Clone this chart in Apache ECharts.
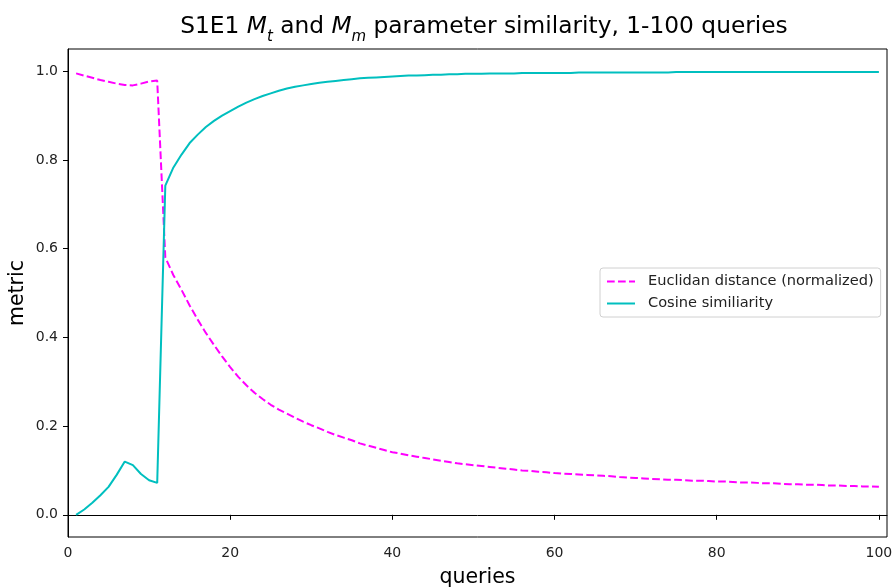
<!DOCTYPE html>
<html>
<head>
<meta charset="utf-8">
<script src="https://cdn.jsdelivr.net/npm/echarts@6/dist/echarts.min.js"></script>
<style>
  html, body { margin: 0; padding: 0; background: #fff; }
  #chart { width: 894px; height: 588px; }
</style>
</head>
<body>
<div id="chart"></div>
<script>
// queries 1..100
var queries = [];
for (var q = 1; q <= 100; q++) queries.push(q);

var euclid = [
    0.995, 0.990, 0.985, 0.980, 0.976, 0.972, 0.969, 0.968, 0.972, 0.977,
    0.979, 0.580, 0.540, 0.507, 0.472, 0.440, 0.410, 0.383, 0.357, 0.333,
    0.311, 0.292, 0.275, 0.261, 0.248, 0.237, 0.228, 0.219, 0.210, 0.202,
    0.195, 0.187, 0.180, 0.174, 0.168, 0.161, 0.156, 0.151, 0.146, 0.141,
    0.138, 0.134, 0.131, 0.128, 0.125, 0.122, 0.119, 0.116, 0.114, 0.112,
    0.110, 0.108, 0.106, 0.104, 0.102, 0.100, 0.099, 0.097, 0.096, 0.094,
    0.093, 0.092, 0.091, 0.090, 0.089, 0.088, 0.087, 0.085, 0.084, 0.083,
    0.082, 0.081, 0.080, 0.079, 0.079, 0.078, 0.077, 0.077, 0.076, 0.075,
    0.075, 0.074, 0.073, 0.073, 0.072, 0.071, 0.071, 0.070, 0.069, 0.069,
    0.068, 0.068, 0.067, 0.066, 0.066, 0.065, 0.065, 0.064, 0.064, 0.063
];

var cosine = [
    0.000, 0.012, 0.027, 0.044, 0.063, 0.090, 0.120, 0.112, 0.092, 0.078,
    0.072, 0.742, 0.783, 0.812, 0.838, 0.857, 0.874, 0.888, 0.900, 0.910,
    0.920, 0.929, 0.937, 0.944, 0.950, 0.956, 0.961, 0.965, 0.968, 0.971,
    0.974, 0.976, 0.978, 0.980, 0.982, 0.984, 0.985, 0.986, 0.987, 0.988,
    0.989, 0.990, 0.990, 0.991, 0.992, 0.992, 0.993, 0.993, 0.994, 0.994,
    0.994, 0.995, 0.995, 0.995, 0.995, 0.996, 0.996, 0.996, 0.996, 0.996,
    0.996, 0.996, 0.997, 0.997, 0.997, 0.997, 0.997, 0.997, 0.997, 0.997,
    0.997, 0.997, 0.997, 0.997, 0.998, 0.998, 0.998, 0.998, 0.998, 0.998,
    0.998, 0.998, 0.998, 0.998, 0.998, 0.998, 0.998, 0.998, 0.998, 0.998,
    0.998, 0.998, 0.998, 0.998, 0.998, 0.998, 0.998, 0.998, 0.998, 0.998
];

var xTicks = [0, 20, 40, 60, 80, 100];
var yTicks = [0, 0.2, 0.4, 0.6, 0.8, 1.0];

var seriesNames = ['Euclidan distance (normalized)', 'Cosine similiarity'];

function pairs(ys) {
    var out = [];
    for (var i = 0; i < ys.length; i++) out.push([queries[i], ys[i]]);
    return out;
}

var font = 'DejaVu Sans';
var chart = echarts.init(document.getElementById('chart'));

var option = {
    backgroundColor: '#fff',
    animation: false,
    title: {
        text: 'S1E1 {i|M}{s|t} and {i|M}{s|m} parameter similarity, 1-100 queries',
        left: 479,
        top: 10,
        textAlign: 'center',
        textStyle: {
            fontFamily: font,
            fontSize: 23.3,
            fontWeight: 'normal',
            color: '#000',
            rich: {
                i: { fontFamily: font, fontSize: 23.3, fontStyle: 'italic', color: '#000' },
                s: { fontFamily: font, fontSize: 15, fontStyle: 'italic', color: '#000', verticalAlign: 'bottom', padding: [0, 0, -7, 0] }
            }
        }
    },
    legend: {
        orient: 'vertical',
        left: 600,
        top: 268,
        data: seriesNames,
        itemWidth: 28,
        itemHeight: 10,
        itemGap: 7,
        padding: [6, 7, 6, 6],
        borderColor: '#d0d0d0',
        borderWidth: 1,
        borderRadius: 3,
        itemStyle: { opacity: 0 },
        textStyle: { fontFamily: font, fontSize: 14.6, color: '#222', padding: [0, 0, 0, 8] }
    },
    grid: {
        left: 68,
        right: 7,
        top: 49,
        bottom: 51,
        outerBoundsMode: 'none',
        containLabel: false,
        show: true,
        borderColor: '#000',
        borderWidth: 1
    },
    xAxis: {
        type: 'value',
        min: 0,
        max: 101,
        name: 'queries',
        nameLocation: 'middle',
        nameGap: 30,
        nameMoveOverlap: false,
        nameTextStyle: { fontFamily: font, fontSize: 20.5, color: '#000' },
        axisLine: { lineStyle: { color: '#000' } },
        axisTick: { customValues: xTicks, length: 5, lineStyle: { color: '#000' } },
        axisLabel: {
            customValues: xTicks,
            fontFamily: font, fontSize: 14, color: '#222', margin: 9
        },
        splitLine: { show: false }
    },
    yAxis: {
        type: 'value',
        min: -0.05,
        max: 1.05,
        name: 'metric',
        nameLocation: 'middle',
        nameGap: 40,
        nameMoveOverlap: false,
        nameTextStyle: { fontFamily: font, fontSize: 20.5, color: '#000' },
        axisLine: { lineStyle: { color: '#000' } },
        axisTick: { customValues: yTicks, length: 5, lineStyle: { color: '#000' } },
        axisLabel: {
            customValues: yTicks,
            fontFamily: font, fontSize: 14, color: '#222', margin: 10,
            formatter: function (v) { return v.toFixed(1); }
        },
        splitLine: { show: false }
    },
    series: [
        {
            name: seriesNames[0],
            type: 'line',
            data: pairs(euclid),
            symbol: 'none',
            lineStyle: { color: '#ff00ff', width: 2, type: [7.7, 3.3] },
            itemStyle: { color: '#ff00ff' }
        },
        {
            name: seriesNames[1],
            type: 'line',
            data: pairs(cosine),
            symbol: 'none',
            lineStyle: { color: '#00bfbf', width: 2 },
            itemStyle: { color: '#00bfbf' }
        }
    ]
};

option && chart.setOption(option);
</script>
</body>
</html>
